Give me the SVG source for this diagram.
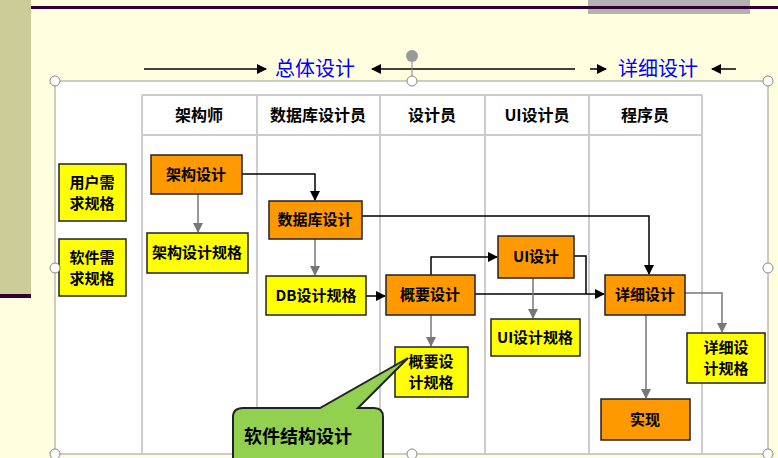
<svg xmlns="http://www.w3.org/2000/svg" width="778" height="458" viewBox="0 0 778 458">
<style>
text{font-family:"Noto Sans CJK SC","DejaVu Sans",sans-serif;font-weight:bold;text-anchor:middle;fill:#000}
.o{fill:#FF9900;stroke:#222;stroke-width:1.5}
.y{fill:#FFFF00;stroke:#222;stroke-width:1.5}
.t{font-size:15px}
.h{font-size:16px}
.k{fill:none;stroke:#000;stroke-width:1.5}
.g{fill:none;stroke:#777;stroke-width:1.5}
.lane{stroke:#ccc;stroke-width:2}
.hd{fill:#fff;stroke:#999}
</style>
<defs>
<marker id="ak" markerWidth="10" markerHeight="10" refX="9" refY="5" orient="auto" markerUnits="userSpaceOnUse"><path d="M0,0L10,5L0,10z" fill="#000"/></marker>
<marker id="ag" markerWidth="10" markerHeight="10" refX="9" refY="5" orient="auto" markerUnits="userSpaceOnUse"><path d="M0,0L10,5L0,10z" fill="#777"/></marker>
</defs>
<rect width="778" height="458" fill="#FFFFE0"/>
<rect x="0" y="0" width="31" height="295" fill="#CCCC99"/>
<rect x="0" y="294" width="31" height="4" fill="#330033"/>
<rect x="588" y="0" width="162" height="14" fill="#B2B2B2"/>
<rect x="31" y="6" width="747" height="3" fill="#330033"/>
<g id="phases">
<line x1="144" y1="69" x2="266" y2="69" class="k" marker-end="url(#ak)"/>
<text x="315" y="76" style="font-size:20px;fill:#0000FF;font-weight:normal">总体设计</text>
<line x1="575" y1="69" x2="372" y2="69" class="k" marker-end="url(#ak)"/>
<line x1="590" y1="69" x2="606" y2="69" class="k" marker-end="url(#ak)"/>
<text x="658" y="76" style="font-size:20px;fill:#0000FF;font-weight:normal">详细设计</text>
<line x1="736" y1="69" x2="712" y2="69" class="k" marker-end="url(#ak)"/>
</g>
<rect x="55" y="81" width="713" height="373" fill="#fff" stroke="#999"/>
<g id="lanes">
<rect x="142" y="95" width="560" height="40" class="hd"/>
<line x1="142" y1="95" x2="142" y2="454" class="lane"/>
<line x1="257" y1="95" x2="257" y2="454" class="lane"/>
<line x1="380" y1="95" x2="380" y2="454" class="lane"/>
<line x1="485" y1="95" x2="485" y2="454" class="lane"/>
<line x1="589" y1="95" x2="589" y2="454" class="lane"/>
<line x1="702" y1="95" x2="702" y2="454" class="lane"/>
<text x="199" y="121" class="h">架构师</text>
<text x="318" y="121" class="h">数据库设计员</text>
<text x="432" y="121" class="h">设计员</text>
<text x="537" y="121" class="h">UI设计员</text>
<text x="645" y="121" class="h">程序员</text>
</g>
<g id="connectors">
<polyline points="242,174 315,174 315,200" class="k" marker-end="url(#ak)"/>
<line x1="198" y1="194" x2="198" y2="232" class="g" marker-end="url(#ag)"/>
<polyline points="362,216 649,216 649,274" class="k" marker-end="url(#ak)"/>
<line x1="315" y1="239" x2="315" y2="275" class="g" marker-end="url(#ag)"/>
<line x1="366" y1="296" x2="385" y2="296" class="k" marker-end="url(#ak)"/>
<polyline points="431,275 431,257 497,257" class="k" marker-end="url(#ak)"/>
<line x1="475" y1="294" x2="604" y2="294" class="k" marker-end="url(#ak)"/>
<polyline points="574,256 586,256 586,294" class="k"/>
<line x1="533" y1="278" x2="533" y2="318" class="g" marker-end="url(#ag)"/>
<polyline points="685,293 722,293 722,332" class="g" marker-end="url(#ag)"/>
<line x1="646" y1="315" x2="646" y2="398" class="g" marker-end="url(#ag)"/>
<line x1="431" y1="315" x2="431" y2="346" class="g" marker-end="url(#ag)"/>
</g>
<g id="n1"><rect x="59" y="164" width="67" height="57" class="y"/><text x="92" y="188" class="t">用户需</text><text x="92" y="209" class="t">求规格</text></g>
<g id="n2"><rect x="59" y="239" width="67" height="57" class="y"/><text x="92" y="263" class="t">软件需</text><text x="92" y="284" class="t">求规格</text></g>
<g id="n3"><rect x="151" y="155" width="91" height="39" class="o"/><text x="196" y="180" class="t">架构设计</text></g>
<g id="n4"><rect x="147" y="233" width="101" height="40" class="y"/><text x="197" y="258" class="t">架构设计规格</text></g>
<g id="n5"><rect x="269" y="201" width="93" height="38" class="o"/><text x="315" y="225" class="t">数据库设计</text></g>
<g id="n6"><rect x="266" y="276" width="100" height="39" class="y"/><text x="316" y="301" class="t">DB设计规格</text></g>
<g id="n7"><rect x="386" y="275" width="89" height="40" class="o"/><text x="430" y="300" class="t">概要设计</text></g>
<g id="n8"><rect x="395" y="347" width="73" height="50" class="y"/><text x="431" y="367" class="t">概要设</text><text x="431" y="388" class="t">计规格</text></g>
<g id="n9"><rect x="498" y="236" width="76" height="42" class="o"/><text x="536" y="262" class="t">UI设计</text></g>
<g id="n10"><rect x="491" y="319" width="89" height="37" class="y"/><text x="535" y="343" class="t">UI设计规格</text></g>
<g id="n11"><rect x="605" y="275" width="80" height="40" class="o"/><text x="645" y="300" class="t">详细设计</text></g>
<g id="n12"><rect x="687" y="333" width="78" height="50" class="y"/><text x="726" y="353" class="t">详细设</text><text x="726" y="374" class="t">计规格</text></g>
<g id="n13"><rect x="601" y="399" width="89" height="41" class="o"/><text x="645" y="425" class="t">实现</text></g>
<g id="handles" fill="#fff" stroke="#888">
<circle cx="412" cy="56" r="6" fill="#999" stroke="none"/>
<line x1="412" y1="62" x2="412" y2="81"/>
<circle cx="55" cy="81" r="5"/><circle cx="412" cy="81" r="5"/><circle cx="768" cy="81" r="5"/>
<circle cx="55" cy="268" r="5"/><circle cx="768" cy="268" r="5"/>
<circle cx="55" cy="454" r="5"/><circle cx="412" cy="454" r="5"/><circle cx="768" cy="454" r="5"/>
</g>
<g id="callout">
<path d="M243,408 L320,408 L408,358 L358,408 L374,408 Q383,408 383,417 L383,470 L233,470 L233,417 Q233,408 243,408Z" fill="#92D050" stroke="#222" stroke-width="2"/>
<text x="298" y="443" style="font-size:18px">软件结构设计</text>
</g>
</svg>
